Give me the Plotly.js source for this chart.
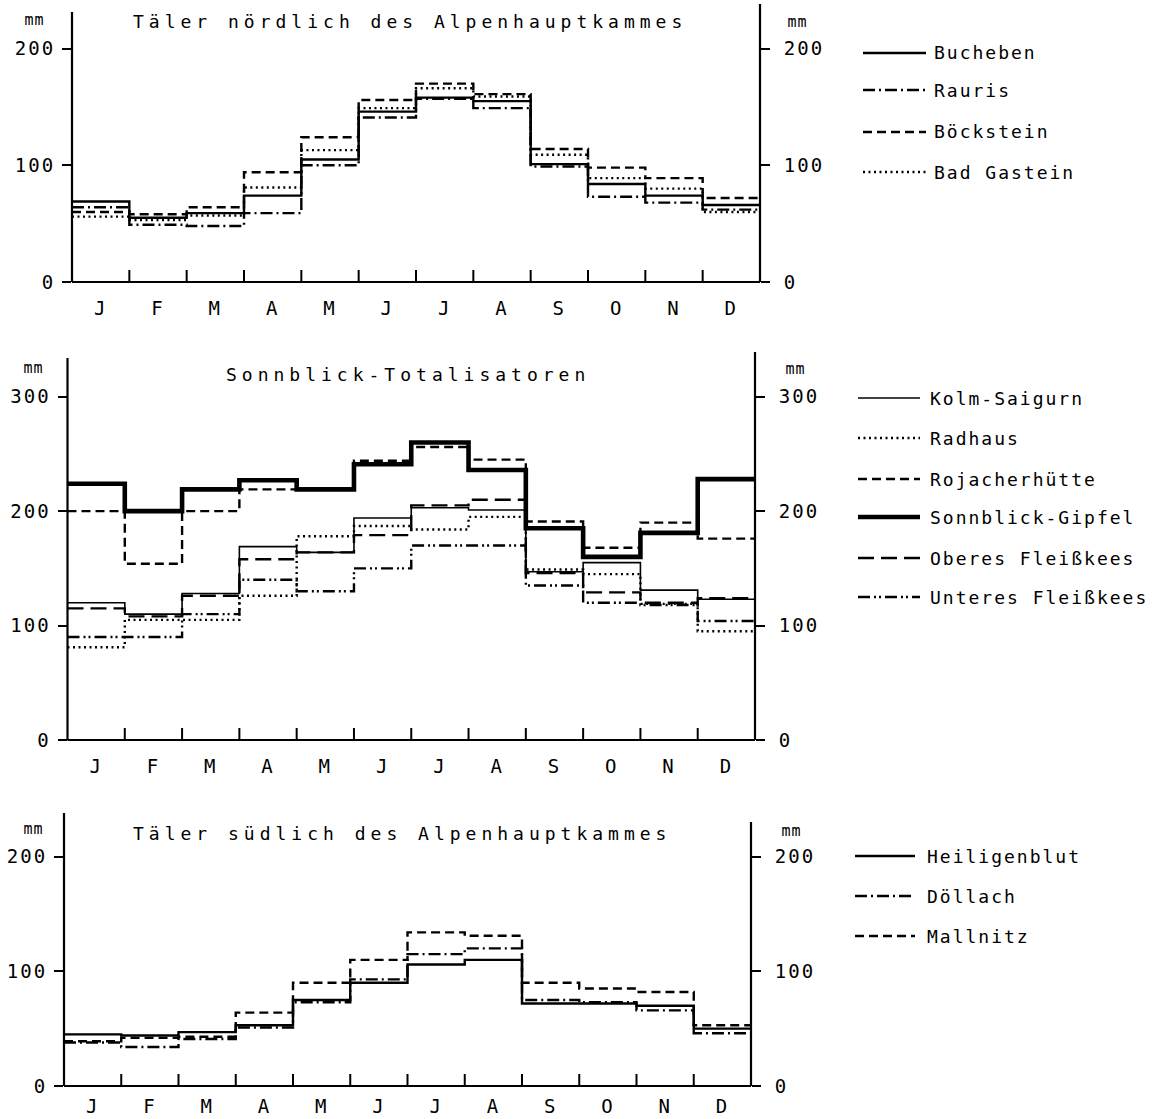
<!DOCTYPE html>
<html><head><meta charset="utf-8">
<script src="https://cdn.plot.ly/plotly-3.0.1.min.js"></script>
<style>html,body{margin:0;padding:0;background:#fff}</style>
</head><body><div id="chart" style="width:1158px;height:1119px"></div>
<script>
// ---------- data ----------
const months = ['J','F','M','A','M','J','J','A','S','O','N','D'];

// Täler nördlich des Alpenhauptkammes
const titleNorth = 'Täler nördlich des Alpenhauptkammes';
const namesNorth = ['Bucheben','Rauris','Böckstein','Bad Gastein'];
const bucheben   = [69,55,59,74,105,146,158,155,101,84,74,66];
const rauris     = [64,49,48,59,100,141,157,149,99,73,68,62];
const boeckstein = [60,58,64,94,124,156,170,161,114,98,89,72];
const badGastein = [56,53,57,81,113,149,166,159,109,89,80,60];
const ticksNorth = [0,100,200];

// Sonnblick-Totalisatoren
const titleSonn = 'Sonnblick-Totalisatoren';
const namesSonn = ['Kolm-Saigurn','Radhaus','Rojacherhütte','Sonnblick-Gipfel','Oberes Fleißkees','Unteres Fleißkees'];
const kolmSaigurn = [120,110,128,169,164,194,203,201,147,155,131,123];
const radhaus     = [81,105,105,126,178,187,184,195,149,145,119,95];
const rojacher    = [200,154,200,219,220,244,256,245,191,168,190,176];
const sonnblick   = [224,200,219,227,219,241,260,236,185,160,181,228];
const oberes      = [115,108,126,158,164,179,205,210,146,129,120,124];
const unteres     = [90,90,110,140,130,150,170,170,135,120,118,104];
const ticksSonn = [0,100,200,300];

// Täler südlich des Alpenhauptkammes
const titleSouth = 'Täler südlich des Alpenhauptkammes';
const namesSouth = ['Heiligenblut','Döllach','Mallnitz'];
const heiligenblut = [45,44,47,53,75,90,106,110,72,72,70,50];
const doellach     = [38,34,41,51,73,93,115,120,75,73,66,46];
const mallnitz     = [39,42,43,64,90,110,134,131,90,85,82,53];
const ticksSouth = [0,100,200];

// ---------- styles ----------
const W = 1158, H = 1119;
const px = x => x / W, py = y => 1 - y / H;
const FONT = 'DejaVu Sans Mono, monospace';
const SOLID = {width:2.4, dash:'solid'};
const DASHDOT = {width:2.4, dash:'12px,4px,2px,4px'};
const DASHED = {width:2.4, dash:'9px,5px'};
const DOTTED = {width:2.4, dash:'2px,3.5px'};
const THIN = {width:1.6, dash:'solid'};
const THICK = {width:4.6, dash:'solid'};
const LONGDASH = {width:2.4, dash:'16px,7px'};
const DASHDOTDOT = {width:2.4, dash:'12px,4px,2px,3px,2px,4px'};

const panels = [
  {title:titleNorth, names:namesNorth, values:[bucheben,rauris,boeckstein,badGastein],
   styles:[SOLID,DASHDOT,DASHED,DOTTED], ticks:ticksNorth,
   left:72, right:760, zeroY:282, ppu:1.167, leftTop:12, rightTop:4, monthGap:13,
   titleX:133, titleY:21, mmL:[34,20], mmR:[797,22],
   legX0:863, legX1:926, legTX:934, legY:[53,90,132,172]},
  {title:titleSonn, names:namesSonn, values:[kolmSaigurn,radhaus,rojacher,sonnblick,oberes,unteres],
   styles:[THIN,DOTTED,DASHED,THICK,LONGDASH,DASHDOTDOT], ticks:ticksSonn,
   left:67.5, right:755, zeroY:740, ppu:1.1443, leftTop:358, rightTop:352, monthGap:13,
   titleX:226, titleY:374, mmL:[33,368], mmR:[795,369],
   legX0:858, legX1:920, legTX:930, legY:[398,438,479,517,558,597]},
  {title:titleSouth, names:namesSouth, values:[heiligenblut,doellach,mallnitz],
   styles:[SOLID,DASHDOT,DASHED], ticks:ticksSouth,
   left:64, right:751, zeroY:1086, ppu:1.1465, leftTop:813, rightTop:822, monthGap:7,
   titleX:133, titleY:833, mmL:[33,829], mmR:[791,831],
   legX0:855, legX1:915, legTX:927, legY:[856,896,936]}
];

const data = [];
const layout = {
  width:W, height:H, margin:{l:0,r:0,t:0,b:0,pad:0},
  paper_bgcolor:'#fff', plot_bgcolor:'rgba(0,0,0,0)',
  showlegend:false, font:{family:FONT, color:'#000', size:19},
  shapes:[], annotations:[]
};
const annFix = [];

panels.forEach((p, i) => {
  const s = i === 0 ? '' : String(i + 1);
  const sr = String(i + 4);
  const xs = months.map((m, k) => k).concat([12]);
  const yTop = (p.zeroY - p.leftTop) / p.ppu;
  p.values.forEach((v, j) => {
    data.push({
      x: xs, y: v.concat([v[v.length - 1]]), name: p.names[j],
      xaxis: 'x' + s, yaxis: 'y' + s, mode: 'lines', hoverinfo: 'skip',
      line: {shape:'hv', color:'#000', width:p.styles[j].width, dash:p.styles[j].dash}
    });
  });
  layout['xaxis' + s] = {
    domain:[px(p.left), px(p.right)], range:[0,12], anchor:'y' + s,
    tickvals: months.map((m, k) => k + 0.5), ticktext: months, ticks:'',
    showline:false, showgrid:false, zeroline:false, fixedrange:true,
    tickfont:{family:FONT, size:19, color:'#000'}, ticklabelstandoff:p.monthGap
  };
  layout['yaxis' + s] = {
    domain:[py(p.zeroY), py(p.leftTop)], range:[0, yTop], anchor:'x' + s,
    tickvals:p.ticks, ticks:'outside', ticklen:9, tickwidth:2, tickcolor:'#000',
    showline:false, showgrid:false, zeroline:false, fixedrange:true,
    tickfont:{family:FONT, size:19, color:'#000'}, ticklabelstandoff:3
  };
  layout['yaxis' + sr] = {
    overlaying:'y' + s, side:'right', anchor:'x' + s, range:[0, yTop],
    tickvals:p.ticks, ticks:'outside', ticklen:9, tickwidth:2, tickcolor:'#000',
    showline:false, showgrid:false, zeroline:false, fixedrange:true,
    tickfont:{family:FONT, size:19, color:'#000'}, ticklabelstandoff:10
  };
  data.push({x:[], y:[], xaxis:'x' + s, yaxis:'y' + sr, mode:'lines', hoverinfo:'skip'});

  // axis frame lines
  const L = {color:'#000', width:2.2};
  layout.shapes.push({type:'line', xref:'paper', yref:'paper', x0:px(p.left), x1:px(p.left), y0:py(p.zeroY), y1:py(p.leftTop), line:L});
  layout.shapes.push({type:'line', xref:'paper', yref:'paper', x0:px(p.right), x1:px(p.right), y0:py(p.zeroY), y1:py(p.rightTop), line:L});
  layout.shapes.push({type:'line', xref:'paper', yref:'paper', x0:px(p.left), x1:px(p.right), y0:py(p.zeroY), y1:py(p.zeroY), line:L});
  // month boundary ticks crossing the x axis
  for (let k = 1; k < 12; k++) {
    layout.shapes.push({type:'line', xref:'x' + s, yref:'y' + s, x0:k, x1:k,
      ysizemode:'pixel', yanchor:0, y0:-13, y1:12, line:{color:'#000', width:2}});
  }
  // title
  layout.annotations.push({xref:'paper', yref:'paper', x:px(p.titleX), y:py(p.titleY), xanchor:'left', yanchor:'middle',
    text:p.title, showarrow:false, font:{family:FONT, size:18, color:'#000'}});
  annFix.push({sp:5, left:p.titleX});
  // mm labels
  [p.mmL, p.mmR].forEach(m => {
    layout.annotations.push({xref:'paper', yref:'paper', x:px(m[0]), y:py(m[1]), xanchor:'center', yanchor:'middle',
      text:'mm', showarrow:false, font:{family:FONT, size:15, color:'#000'}});
    annFix.push({sp:1, center:m[0]});
  });
  // legend
  p.names.forEach((n, j) => {
    layout.shapes.push({type:'line', xref:'paper', yref:'paper', x0:px(p.legX0), x1:px(p.legX1), y0:py(p.legY[j]), y1:py(p.legY[j]),
      line:{color:'#000', width:p.styles[j].width, dash:p.styles[j].dash}});
    layout.annotations.push({xref:'paper', yref:'paper', x:px(p.legTX), y:py(p.legY[j]), xanchor:'left', yanchor:'middle',
      text:n, showarrow:false, font:{family:FONT, size:18, color:'#000'}});
    annFix.push({sp:2, left:p.legTX});
  });
});

Plotly.newPlot('chart', data, layout, {displayModeBar:false, staticPlot:true}).then(() => {
  const root = document.getElementById('chart').getBoundingClientRect();
  const anns = document.querySelectorAll('#chart .annotation-text');
  anns.forEach((t, i) => {
    const f = annFix[i];
    if (!f) return;
    t.style.letterSpacing = f.sp + 'px';
    const r = t.getBoundingClientRect();
    const curLeft = r.left - root.left;
    const curCenter = curLeft + (r.width - f.sp) / 2;
    const dx = (f.left !== undefined) ? f.left - curLeft : f.center - curCenter;
    const prev = t.getAttribute('transform') || '';
    t.setAttribute('transform', (prev + ' translate(' + dx.toFixed(2) + ',0)').trim());
  });
  document.querySelectorAll('#chart g[class$="tick"] text').forEach(t => { t.style.letterSpacing = '2px'; });
});
</script>
</body></html>
